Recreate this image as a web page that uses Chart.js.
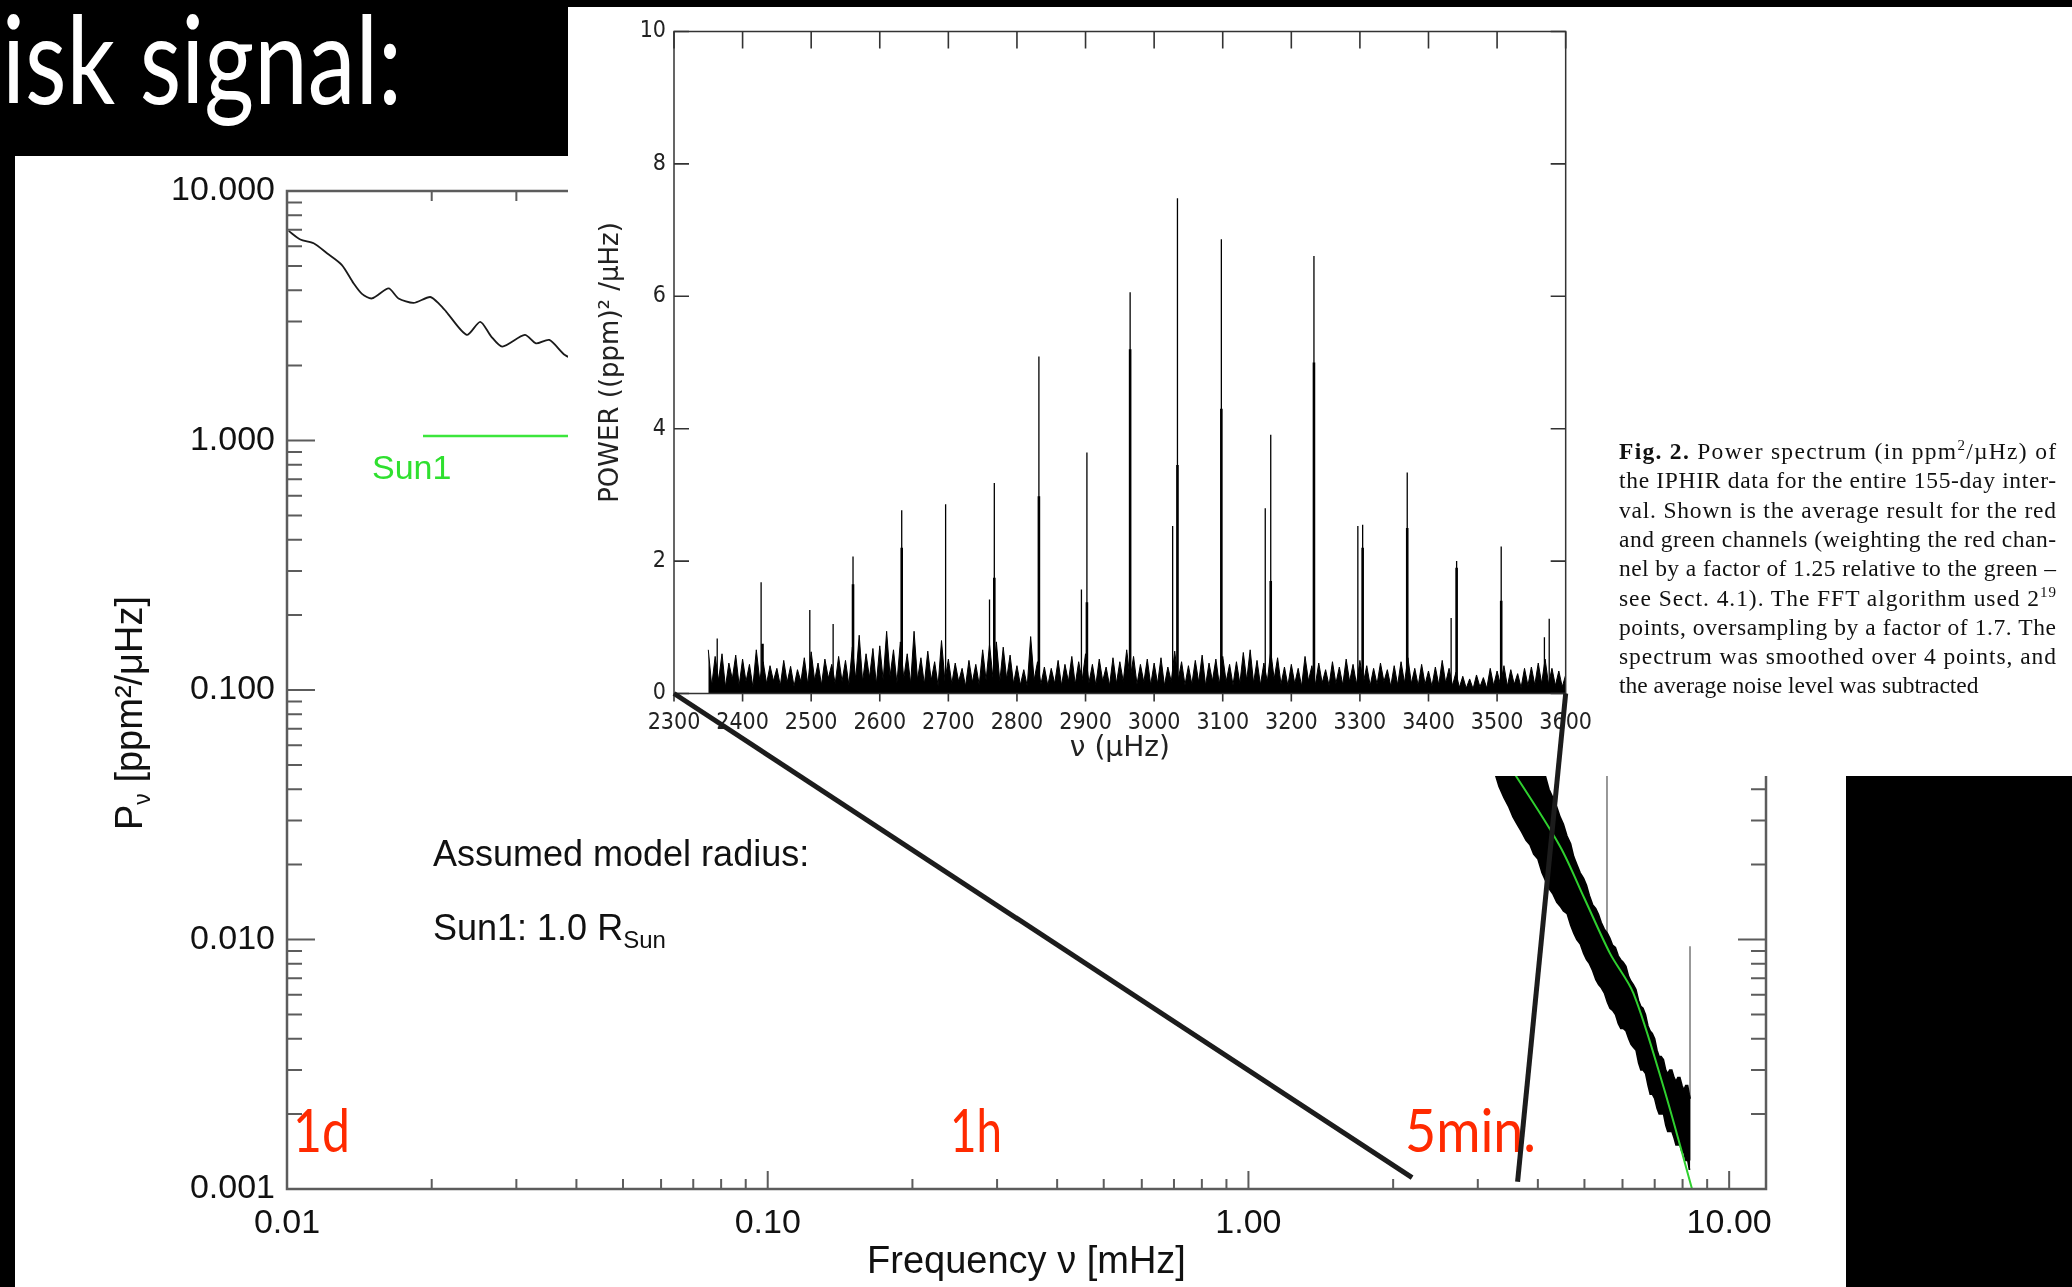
<!DOCTYPE html>
<html lang="en">
<head>
<meta charset="UTF-8">
<title>Disk signal - power spectrum</title>
<script src="https://cdn.jsdelivr.net/npm/chart.js"></script>
<style>
  body { margin: 0; width: 2072px; height: 1287px; background: #000; position: relative; overflow: hidden; }
  #slide { position: absolute; left: 15px; top: 156px; width: 1831px; height: 1131px; background: #fff; z-index: 1; }
  #inset { position: absolute; left: 568px; top: 7px; width: 1504px; height: 769px; background: #fff; z-index: 3; }
  svg.layer { position: absolute; left: 0; top: 0; width: 2072px; height: 1287px; pointer-events: none; }
  #notesUnder { z-index: 2; }
  #notesOver { z-index: 4; }
  canvas { display: block; }
</style>
</head>
<body>
<div id="slide"><canvas id="oldChart" width="1831" height="1131"></canvas></div>

<svg id="notesUnder" class="layer" xmlns="http://www.w3.org/2000/svg">
  <line x1="423" y1="436" x2="600" y2="436" stroke="#3ce63c" stroke-width="2.5"/>
  <text x="372" y="479" font-family="Liberation Sans, Arial, sans-serif" font-size="34" fill="#2fe02f">Sun1</text>
  <text x="433" y="866" font-family="Liberation Sans, Arial, sans-serif" font-size="36" fill="#111">Assumed model radius:</text>
  <text x="433" y="940" font-family="Liberation Sans, Arial, sans-serif" font-size="36" fill="#111">Sun1: 1.0 R<tspan font-size="24" dy="8">Sun</tspan></text>
  <g font-family="Lato, sans-serif" font-size="60" fill="#ff2a00">
    <text x="293" y="1152" textLength="57" lengthAdjust="spacingAndGlyphs">1d</text>
    <text x="950" y="1152" textLength="52" lengthAdjust="spacingAndGlyphs">1h</text>
    <text x="1405" y="1152" textLength="131" lengthAdjust="spacingAndGlyphs">5min.</text>
  </g>
</svg>

<div id="inset"><canvas id="insetChart" width="1040" height="769"></canvas></div>

<svg id="notesOver" class="layer" xmlns="http://www.w3.org/2000/svg">
  <text x="2" y="104" font-family="Lato, sans-serif" font-size="122" fill="#fff" textLength="400" lengthAdjust="spacingAndGlyphs">isk signal:</text>
  <g font-family="Liberation Serif, Times New Roman, serif" font-size="23.5" fill="#111">
    <text x="1619" y="459" textLength="437" lengthAdjust="spacing"><tspan font-weight="bold">Fig. 2.</tspan> Power spectrum (in ppm<tspan dy="-9" font-size="15">2</tspan><tspan dy="9">/µHz) of</tspan></text>
    <text x="1619" y="488.3" textLength="437" lengthAdjust="spacing">the IPHIR data for the entire 155-day inter-</text>
    <text x="1619" y="517.6" textLength="437" lengthAdjust="spacing">val. Shown is the average result for the red</text>
    <text x="1619" y="546.9" textLength="437" lengthAdjust="spacing">and green channels (weighting the red chan-</text>
    <text x="1619" y="576.2" textLength="437" lengthAdjust="spacing">nel by a factor of 1.25 relative to the green –</text>
    <text x="1619" y="605.5" textLength="437" lengthAdjust="spacing">see Sect. 4.1). The FFT algorithm used 2<tspan dy="-9" font-size="15">19</tspan></text>
    <text x="1619" y="634.8" textLength="437" lengthAdjust="spacing">points, oversampling by a factor of 1.7. The</text>
    <text x="1619" y="664.1" textLength="437" lengthAdjust="spacing">spectrum was smoothed over 4 points, and</text>
    <text x="1619" y="693.4">the average noise level was subtracted</text>
  </g>
  <g id="links"></g>
</svg>

<script>
// ---- slide plot (log-log), frequency in mHz, power in ppm^2/uHz ----
const lowFreq  = [0.01008, 0.01066, 0.01136, 0.01211, 0.01301, 0.01375, 0.01432, 0.01502, 0.01627, 0.01706, 0.01834, 0.01986,
                  0.02084, 0.02145, 0.02366, 0.02523, 0.02660, 0.02804, 0.03124, 0.03295, 0.03513, 0.03786, 0.0410, 0.0450];
const lowPower = [6.92, 6.39, 6.17, 5.63, 5.05, 4.27, 3.87, 3.71, 4.07, 3.71, 3.56, 3.76,
                  3.49, 3.28, 2.65, 2.99, 2.61, 2.38, 2.65, 2.45, 2.53, 2.20, 2.05, 1.90];

const bandFreq  = [3.25, 3.32, 3.4, 3.48, 3.55, 3.62, 3.7, 3.78, 3.85, 3.92, 4.0, 4.08, 4.15, 4.22, 4.3, 4.38, 4.45, 4.52, 4.6, 4.68,
                   4.75, 4.82, 4.9, 4.98, 5.05, 5.12, 5.2, 5.28, 5.35, 5.42, 5.5, 5.58, 5.65, 5.72, 5.8, 5.88, 5.95, 6.02,
                   6.1, 6.18, 6.25, 6.32, 6.4, 6.48, 6.55, 6.62, 6.7, 6.78, 6.85, 6.92, 7.0, 7.08, 7.15, 7.22, 7.3, 7.38,
                   7.45, 7.52, 7.6, 7.68, 7.75, 7.82, 7.9, 7.98, 8.05, 8.12, 8.2, 8.26, 8.3];
const bandUpper = [0.110, 0.101, 0.098, 0.092, 0.090, 0.082, 0.078, 0.075, 0.070, 0.061, 0.056, 0.050, 0.045, 0.040, 0.037, 0.034,
                   0.031, 0.029, 0.026, 0.0242, 0.0215, 0.0200, 0.0185, 0.0176, 0.0165, 0.0150, 0.0138, 0.0133, 0.0126, 0.0117,
                   0.0110, 0.0106, 0.0101, 0.0095, 0.0093, 0.0086, 0.0083, 0.0081, 0.0078, 0.0071, 0.0068, 0.0066, 0.0063,
                   0.0057, 0.0054, 0.0053, 0.0050, 0.0045, 0.0043, 0.0042, 0.0040, 0.0036, 0.0034, 0.0034, 0.0033, 0.0030,
                   0.0029, 0.0030, 0.0030, 0.0028, 0.0027, 0.0028, 0.0028, 0.0026, 0.0025, 0.0026, 0.0026, 0.0024, 0.0023];
const bandLower = [0.047, 0.041, 0.037, 0.034, 0.031, 0.029, 0.027, 0.025, 0.024, 0.022, 0.021, 0.0185, 0.0172, 0.0160, 0.0152,
                   0.0141, 0.0136, 0.0130, 0.0127, 0.0114, 0.0106, 0.0100, 0.0096, 0.0088, 0.0083, 0.0080, 0.0075, 0.0069,
                   0.0066, 0.0064, 0.0061, 0.0056, 0.0053, 0.0052, 0.0050, 0.0046, 0.0044, 0.0044, 0.0043, 0.0040, 0.0038,
                   0.0037, 0.0036, 0.0032, 0.0030, 0.0030, 0.0029, 0.0026, 0.0024, 0.0024, 0.0023, 0.0021, 0.0020, 0.0020,
                   0.0020, 0.0018, 0.0017, 0.0017, 0.0017, 0.0016, 0.0015, 0.0015, 0.0015, 0.0014, 0.0014, 0.0013, 0.0013,
                   0.0012, 0.0012];

const modelFreq  = [3.0, 3.61, 4.45, 5.0, 5.65, 6.32, 7.30, 8.36, 8.6];
const modelPower = [0.075, 0.0449, 0.0236, 0.0146, 0.0088, 0.0061, 0.00257, 0.00101, 0.00082];

const spikeFreq = [5.57, 8.29];
const spikeTop  = [0.05, 0.0094];
const spikeBase = [0.0105, 0.0013];

const xDecades = [0.01, 0.1, 1, 10];
const xDecadeLabels = ['0.01', '0.10', '1.00', '10.00'];
const yDecades = [0.001, 0.01, 0.1, 1, 10];
const yDecadeLabels = ['0.001', '0.010', '0.100', '1.000', '10.000'];

// zoom connectors: inset limits (uHz) -> points on the slide axis (mHz)
const zoomEdges = [2300, 3600];
const zoomTargetFreq = [2.19, 3.63];
const zoomTargetPower = [0.00111, 0.00107];

// ---- inset spectrum, frequency in uHz ----
const noiseStart = 2350, noiseStep = 5;
const noisePower = [
  0.66,0.12,0.56,0.20,0.60,0.10,0.46,0.22,0.58,0.12,
  0.52,0.18,0.44,0.10,0.66,0.20,0.48,0.15,0.42,0.19,
  0.38,0.12,0.50,0.17,0.41,0.11,0.36,0.18,0.54,0.14,
  0.63,0.20,0.46,0.13,0.52,0.23,0.44,0.15,0.56,0.18,
  0.50,0.13,0.70,0.22,0.88,0.18,0.60,0.24,0.68,0.14,
  0.72,0.20,0.94,0.26,0.66,0.16,0.78,0.23,0.60,0.15,
  0.94,0.21,0.54,0.14,0.64,0.20,0.48,0.12,0.80,0.19,
  0.52,0.15,0.46,0.18,0.38,0.11,0.50,0.17,0.44,0.13,
  0.66,0.20,0.74,0.24,0.78,0.18,0.70,0.22,0.58,0.15,
  0.42,0.13,0.36,0.11,0.86,0.20,0.48,0.14,0.40,0.12,
  0.38,0.15,0.50,0.12,0.44,0.18,0.56,0.14,0.48,0.20,
  0.60,0.16,0.44,0.13,0.52,0.19,0.40,0.12,0.54,0.15,
  0.48,0.18,0.66,0.22,0.56,0.14,0.44,0.17,0.52,0.13,
  0.46,0.15,0.54,0.12,0.40,0.18,0.64,0.20,0.48,0.13,
  0.42,0.14,0.50,0.17,0.58,0.12,0.46,0.19,0.52,0.14,
  0.56,0.18,0.44,0.13,0.48,0.15,0.62,0.20,0.66,0.16,
  0.50,0.13,0.46,0.18,0.64,0.22,0.54,0.14,0.40,0.12,
  0.44,0.15,0.38,0.11,0.56,0.19,0.42,0.13,0.46,0.16,
  0.36,0.12,0.48,0.15,0.40,0.13,0.52,0.18,0.44,0.14,
  0.50,0.16,0.42,0.12,0.38,0.14,0.46,0.18,0.36,0.11,
  0.42,0.13,0.48,0.16,0.54,0.15,0.38,0.12,0.44,0.14,
  0.34,0.11,0.40,0.13,0.50,0.16,0.38,0.12,0.32,0.09,
  0.26,0.08,0.22,0.07,0.28,0.10,0.24,0.08,0.38,0.12,
  0.34,0.13,0.42,0.11,0.36,0.14,0.30,0.09,0.38,0.12,
  0.40,0.13,0.46,0.15,0.52,0.14,0.38,0.12,0.34,0.10,
  0.28
];
const peakFreq  = [2363, 2427, 2498, 2532, 2561, 2632, 2696, 2760, 2767, 2832, 2894, 2902, 2965, 3027,
                   3034, 3098, 3162, 3170, 3233, 3297, 3304, 3369, 3433, 3441, 3506, 3569, 3576];
const peakPower = [0.83, 1.68, 1.26, 1.05, 2.07, 2.77, 2.86, 1.42, 3.18, 5.09, 1.57, 3.64, 6.06, 2.53,
                   7.48, 6.86, 2.80, 3.91, 6.61, 2.53, 2.55, 3.34, 1.14, 2.00, 2.22, 0.85, 1.13];
const subFreq  = [2429, 2561, 2632, 2767, 2832, 2902, 2965, 3034, 3098, 3170, 3233, 3304, 3369, 3441, 3506];
const subPower = [0.75, 1.65, 2.2, 1.75, 2.98, 1.38, 5.2, 3.45, 4.3, 1.7, 5.0, 2.2, 2.5, 1.9, 1.4];

// vertical segments from base to top, separated by gaps
function sticks(freqs, tops, bases) {
  const pts = [];
  freqs.forEach((f, i) => {
    pts.push({x: f, y: bases ? bases[i] : 0}, {x: f, y: tops[i]}, {x: f, y: null});
  });
  return pts;
}

// box frame with inward ticks on every side
const frameTicks = {
  id: 'frameTicks',
  afterDraw(chart, args, o) {
    const {ctx, chartArea: a} = chart;
    const sx = chart.scales.x, sy = chart.scales.y;
    const whole = v => {
      if (!o.log) return true;
      const m = v / Math.pow(10, Math.floor(Math.log10(v) + 1e-9));
      return Math.abs(m - Math.round(m)) < 1e-6;
    };
    const decade = v => !o.log || Math.abs(Math.log10(v) - Math.round(Math.log10(v))) < 1e-6;
    ctx.save();
    ctx.strokeStyle = o.color;
    ctx.lineWidth = o.tickWidth;
    ctx.beginPath();
    sx.ticks.forEach(t => {
      if (!whole(t.value)) return;
      const p = sx.getPixelForValue(t.value);
      if (p < a.left - 1 || p > a.right + 1) return;
      const len = decade(t.value) ? o.xMajor : o.xMinor;
      ctx.moveTo(p, a.top); ctx.lineTo(p, a.top + len);
      ctx.moveTo(p, a.bottom); ctx.lineTo(p, o.bottomOut ? a.bottom + o.bottomOut : a.bottom - len);
    });
    sy.ticks.forEach(t => {
      if (!whole(t.value)) return;
      const p = sy.getPixelForValue(t.value);
      if (p < a.top - 1 || p > a.bottom + 1) return;
      const len = decade(t.value) ? o.yMajor : o.yMinor;
      ctx.moveTo(a.left, p); ctx.lineTo(a.left + len, p);
      ctx.moveTo(a.right, p); ctx.lineTo(a.right - len, p);
    });
    ctx.stroke();
    ctx.lineWidth = o.lineWidth;
    ctx.strokeRect(a.left, a.top, a.right - a.left, a.bottom - a.top);
    ctx.restore();
  }
};

// rotated "P_nu [ppm^2/uHz]" title with a real subscript
const pnuTitle = {
  id: 'pnuTitle',
  afterDraw(chart, args, o) {
    const {ctx, chartArea: a} = chart;
    const big = o.size + 'px "Liberation Sans", Arial, sans-serif';
    const small = Math.round(o.size * 0.6) + 'px "Liberation Sans", Arial, sans-serif';
    ctx.save();
    ctx.translate(a.left + o.dx, (a.top + a.bottom) / 2 + o.dy);
    ctx.rotate(-Math.PI / 2);
    ctx.fillStyle = '#111';
    ctx.font = big;
    const w1 = ctx.measureText('P').width, w3 = ctx.measureText(' [ppm²/μHz]').width;
    ctx.font = small;
    const w2 = ctx.measureText('ν').width;
    let x = -(w1 + w2 + w3) / 2;
    const base = o.size * 0.36;
    ctx.font = big; ctx.fillText('P', x, base); x += w1;
    ctx.font = small; ctx.fillText('ν', x, base + o.size * 0.22); x += w2;
    ctx.font = big; ctx.fillText(' [ppm²/μHz]', x, base);
    ctx.restore();
  }
};

const decadeLabel = (v, list, labels) => {
  const i = list.findIndex(d => Math.abs(Math.log10(v) - Math.log10(d)) < 1e-6);
  return i < 0 ? '' : labels[i];
};

const sansTick = {family: '"Liberation Sans", Arial, sans-serif', size: 34};

const oldChart = new Chart(document.getElementById('oldChart'), {
  type: 'line',
  data: {
    datasets: [
      {label: 'Sun1', data: modelFreq.map((f, i) => ({x: f, y: modelPower[i]})),
       borderColor: '#2fd02f', borderWidth: 2, pointRadius: 0, tension: 0.3},
      {label: 'spectrum upper', data: bandFreq.map((f, i) => ({x: f, y: bandUpper[i]})),
       borderColor: '#000', borderWidth: 1.5, backgroundColor: '#000', fill: '+1', pointRadius: 0, tension: 0},
      {label: 'spectrum lower', data: bandFreq.map((f, i) => ({x: f, y: bandLower[i]})),
       borderColor: '#000', borderWidth: 1.5, pointRadius: 0, tension: 0},
      {label: 'lines', data: sticks(spikeFreq, spikeTop, spikeBase),
       borderColor: '#777', borderWidth: 1.5, pointRadius: 0, spanGaps: false},
      {label: 'low frequency', data: lowFreq.map((f, i) => ({x: f, y: lowPower[i]})),
       borderColor: '#1a1a1a', borderWidth: 1.8, pointRadius: 0, tension: 0.25}
    ]
  },
  plugins: [frameTicks, pnuTitle],
  options: {
    responsive: false,
    animation: false,
    events: [],
    layout: {padding: {left: 0, top: 35, right: 80, bottom: 0}},
    plugins: {
      legend: {display: false},
      tooltip: {enabled: false},
      frameTicks: {color: '#5c5c5c', lineWidth: 2.5, tickWidth: 2, log: true,
                   xMajor: 18, xMinor: 10, yMajor: 28, yMinor: 15, bottomOut: 0},
      pnuTitle: {dx: -159, dy: 23, size: 38}
    },
    scales: {
      x: {
        type: 'logarithmic', min: 0.01, max: 11.93,
        grid: {display: false, drawTicks: false}, border: {display: false},
        ticks: {autoSkip: false, maxRotation: 0, padding: 14, color: '#111', font: sansTick,
                callback: v => decadeLabel(v, xDecades, xDecadeLabels)},
        title: {display: true, text: 'Frequency ν [mHz]', color: '#111',
                font: {family: '"Liberation Sans", Arial, sans-serif', size: 38}, padding: {top: 0, bottom: 2}},
        afterFit: s => { s.height = 98; }
      },
      y: {
        type: 'logarithmic', min: 0.001, max: 10,
        grid: {display: false, drawTicks: false}, border: {display: false},
        ticks: {autoSkip: false, padding: 12, color: '#111', font: sansTick,
                callback: v => decadeLabel(v, yDecades, yDecadeLabels)},
        afterFit: s => { s.width = 272; }
      }
    }
  }
});

const insetChart = new Chart(document.getElementById('insetChart'), {
  type: 'line',
  data: {
    datasets: [
      {label: 'modes', data: sticks(peakFreq, peakPower),
       borderColor: '#000', borderWidth: 1.3, pointRadius: 0, spanGaps: false},
      {label: 'mode cores', data: sticks(subFreq, subPower),
       borderColor: '#000', borderWidth: 2.6, pointRadius: 0, spanGaps: false},
      {label: 'noise', data: noisePower.map((p, i) => ({x: noiseStart + i * noiseStep, y: p})),
       borderColor: '#000', borderWidth: 1, backgroundColor: '#000', fill: 'origin', pointRadius: 0, tension: 0}
    ]
  },
  plugins: [frameTicks],
  options: {
    responsive: false,
    animation: false,
    events: [],
    layout: {padding: {left: 0, top: 24.5, right: 35, bottom: 0}},
    plugins: {
      legend: {display: false},
      tooltip: {enabled: false},
      frameTicks: {color: '#333', lineWidth: 1.5, tickWidth: 1.6, log: false,
                   xMajor: 17, xMinor: 17, yMajor: 15, yMinor: 15, bottomOut: 8}
    },
    scales: {
      x: {
        type: 'linear', min: 2300, max: 3600,
        grid: {display: false, drawTicks: false}, border: {display: false},
        ticks: {stepSize: 100, autoSkip: false, maxRotation: 0, padding: 16, color: '#222',
                font: {family: '"Liberation Sans Narrow", "DejaVu Sans Condensed", sans-serif', size: 23},
                callback: v => String(v)},
        title: {display: true, text: 'ν (μHz)', color: '#222',
                font: {family: '"DejaVu Sans", sans-serif', size: 28}, padding: {top: 0, bottom: 10}},
        afterFit: s => { s.height = 82.5; }
      },
      y: {
        min: 0, max: 10,
        grid: {display: false, drawTicks: false}, border: {display: false},
        ticks: {stepSize: 2, padding: 8, color: '#222',
                font: {family: '"Liberation Sans Narrow", "DejaVu Sans Condensed", sans-serif', size: 23},
                callback: v => String(v)},
        title: {display: true, text: 'POWER ((ppm)² /μHz)', color: '#222',
                font: {family: '"DejaVu Sans", sans-serif', size: 26}, padding: {top: 28, bottom: 0}},
        afterFit: s => { s.width = 106; }
      }
    }
  }
});

// connector lines from the inset corners down to the slide's frequency axis
const slideBox = document.getElementById('oldChart').getBoundingClientRect();
const insetBox = document.getElementById('insetChart').getBoundingClientRect();
const links = document.getElementById('links');
zoomEdges.forEach((f, i) => {
  const ln = document.createElementNS('http://www.w3.org/2000/svg', 'line');
  ln.setAttribute('x1', insetBox.left + insetChart.scales.x.getPixelForValue(f));
  ln.setAttribute('y1', insetBox.top + insetChart.scales.y.getPixelForValue(0));
  ln.setAttribute('x2', slideBox.left + oldChart.scales.x.getPixelForValue(zoomTargetFreq[i]));
  ln.setAttribute('y2', slideBox.top + oldChart.scales.y.getPixelForValue(zoomTargetPower[i]));
  ln.setAttribute('stroke', '#1c1c1c');
  ln.setAttribute('stroke-width', '5');
  links.appendChild(ln);
});
</script>
</body>
</html>
